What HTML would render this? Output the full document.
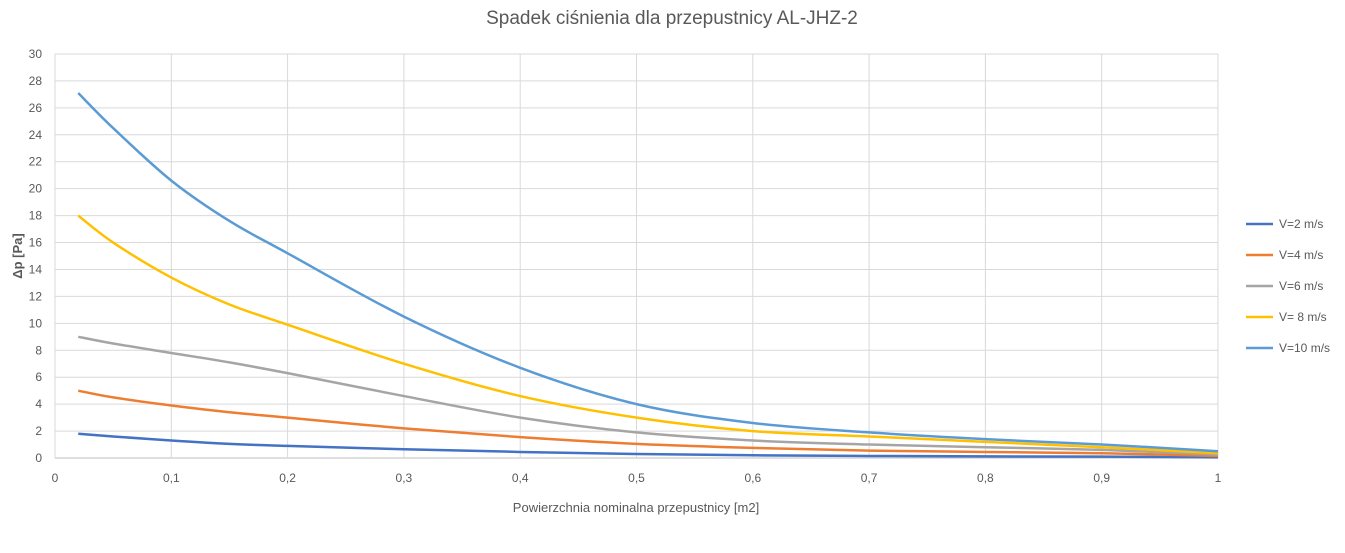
<!DOCTYPE html>
<html><head><meta charset="utf-8"><style>
body{margin:0;background:#fff;font-family:"Liberation Sans",sans-serif;}
svg text{font-family:"Liberation Sans",sans-serif;fill:#595959;}
</style></head><body>
<svg id="chart" width="1345" height="548" xmlns="http://www.w3.org/2000/svg">
<text x="672" y="24" text-anchor="middle" font-size="19">Spadek ciśnienia dla przepustnicy AL-JHZ-2</text>
<g id="grid"></g><g id="series"></g><g id="axes"></g><g id="legend"></g>
<text x="636" y="512" text-anchor="middle" font-size="13">Powierzchnia nominalna przepustnicy [m2]</text>
<text transform="translate(22,256) rotate(-90)" text-anchor="middle" font-size="13" font-weight="bold">Δp [Pa]</text>
</svg>
<script>
const xs=[0.02,0.05,0.1,0.15,0.2,0.3,0.4,0.5,0.6,0.7,0.8,0.9,1.0];
const v2=[1.8,1.6,1.3,1.05,0.9,0.65,0.45,0.3,0.2,0.15,0.12,0.1,0.05];
const v4=[5,4.5,3.9,3.4,3.0,2.2,1.55,1.05,0.75,0.55,0.45,0.35,0.15];
const v6=[9,8.5,7.8,7.1,6.3,4.6,3.0,1.9,1.3,1.0,0.8,0.6,0.25];
const v8=[18,16,13.4,11.4,9.9,7.0,4.6,3.0,2.0,1.6,1.2,0.8,0.35];
const v10=[27.1,24.5,20.6,17.6,15.2,10.5,6.7,4.0,2.6,1.9,1.4,1.0,0.5];
const names=["V=2 m/s","V=4 m/s","V=6 m/s","V= 8 m/s","V=10 m/s"];
const xTicks=["0","0,1","0,2","0,3","0,4","0,5","0,6","0,7","0,8","0,9","1"];
const yTicks=[0,2,4,6,8,10,12,14,16,18,20,22,24,26,28,30];
const colors=["#4472c4","#ed7d31","#a5a5a5","#ffc000","#5b9bd5"];
const X0=55,X1=1218,Y0=458,Y1=54;
const sx=v=>X0+(X1-X0)*v, sy=v=>Y0-(Y0-Y1)*v/30;
const NS="http://www.w3.org/2000/svg";
function mk(tag,attrs,parent){const e=document.createElementNS(NS,tag);for(const k in attrs)e.setAttribute(k,attrs[k]);parent.appendChild(e);return e;}
const grid=document.getElementById('grid'),axes=document.getElementById('axes');
yTicks.forEach(t=>{
 const l=mk('line',{x1:X0,x2:X1,y1:sy(t),y2:sy(t),stroke:t===0?'#bfbfbf':'#d9d9d9','stroke-width':1},grid);
 
 
 const tx=mk('text',{x:X0-13,y:sy(t)+4,'text-anchor':'end','font-size':12},axes);
 tx.textContent=t;
 
 
});
xTicks.forEach((t,i)=>{
 const x=sx(i/10);
 const l=mk('line',{x1:x,x2:x,y1:Y1,y2:Y0,stroke:'#d9d9d9','stroke-width':1},grid);
 
 
 const tx=mk('text',{x:x,y:Y0+24,'text-anchor':'middle','font-size':12},axes);
 tx.textContent=t;
 
 
});
function pathFor(ys){
 const p=xs.map((x,i)=>[sx(x),sy(ys[i])]);
 let d='M'+p[0][0]+','+p[0][1];
 for(let i=0;i<p.length-1;i++){
  const a=p[Math.max(0,i-1)],b=p[i],c=p[i+1],e=p[Math.min(p.length-1,i+2)];
  const c1=[b[0]+(c[0]-a[0])/6,b[1]+(c[1]-a[1])/6],c2=[c[0]-(e[0]-b[0])/6,c[1]-(e[1]-b[1])/6];
  d+=` C${c1[0]},${c1[1]} ${c2[0]},${c2[1]} ${c[0]},${c[1]}`;
 }
 return d;
}
const series=[v2,v4,v6,v8,v10];
const sg=document.getElementById('series'),lg=document.getElementById('legend');
series.forEach((ys,i)=>{
 const p=mk('path',{d:pathFor(ys),fill:'none',stroke:colors[i],'stroke-width':2.5},sg);
 
 
 const y=224+i*31;
 const l=mk('line',{x1:1246,x2:1273,y1:y,y2:y,stroke:colors[i],'stroke-width':2.5},lg);
 
 
 const t=mk('text',{x:1279,y:y+4,'font-size':12},lg);
 t.textContent=names[i];
 
 
});
</script>
</body></html>
